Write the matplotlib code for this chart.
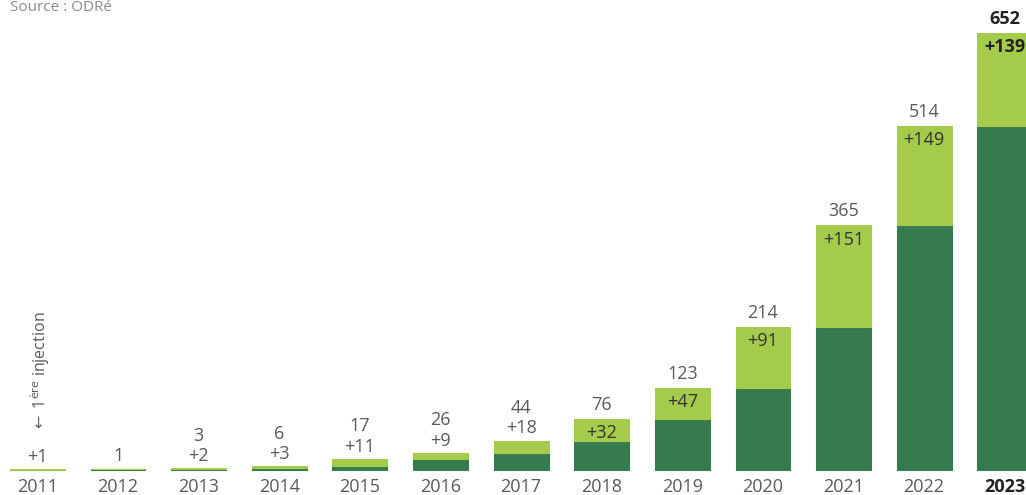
import numpy as np
from matplotlib import pyplot as plt

years = ['2011', '2012', '2013', '2014', '2015', '2016', '2017',
         '2018', '2019', '2020', '2021', '2022', '2023']
totals = [1, 1, 3, 6, 17, 26, 44, 76, 123, 214, 365, 514, 652]
added = [1, 0, 2, 3, 11, 9, 18, 32, 47, 91, 151, 149, 139]

dark = '#367a4f'
light = '#a4cb4b'
grey = '#5a5a5a'

plt.rcParams['font.family'] = ['Open Sans', 'DejaVu Sans']

totals = np.array(totals)
added = np.array(added)
before = totals - added
x = np.arange(len(years))

fig = plt.figure(figsize=(10.26, 4.95), dpi=100)
ax = fig.add_axes([0, 0, 1, 1])
ax.set_xlim(-0.465, 12.264)
ax.set_ylim(-37.3, 701.5)
ax.axis('off')

w = 0.68
fs = 13
ax.bar(x, before, w, color=dark, edgecolor=dark, linewidth=0.8)
ax.bar(x, added, w, bottom=before, color=light, edgecolor=light, linewidth=0.8)

for i in range(len(years)):
    last = i == len(years) - 1
    col = '#222222' if last else grey
    wt = 'bold' if last else 'normal'
    ax.text(x[i], -25, years[i], ha='center', va='center', fontsize=fs,
            color=col, fontweight=wt)
    top = totals[i]
    if added[i] >= 30:
        # label fits inside the light part
        ax.text(x[i], top - 21, '+%d' % added[i], ha='center', va='center',
                fontsize=fs, color='#333333' if not last else '#222222',
                fontweight=wt)
        ax.text(x[i], top + 21, str(totals[i]), ha='center', va='center',
                fontsize=fs, color=col, fontweight=wt)
    elif added[i] == 0:
        ax.text(x[i], top + 20, str(totals[i]), ha='center', va='center',
                fontsize=fs, color=col)
    else:
        ax.text(x[i], top + 18, '+%d' % added[i], ha='center', va='center',
                fontsize=fs, color=col)
        if i > 0:
            ax.text(x[i], top + 48, str(totals[i]), ha='center', va='center',
                    fontsize=fs, color=col)

ax.text(x[0] + 0.03, 56, r'$\leftarrow$ 1$^{\mathrm{ère}}$ injection',
        rotation=90, ha='center', va='bottom', fontsize=11.5, color=grey)

fig.text(0.01, 1.0, 'Source : ODRé', ha='left', va='top',
         fontsize=11, color='#8a8a8a')

fig.savefig('out.png', dpi=100)
